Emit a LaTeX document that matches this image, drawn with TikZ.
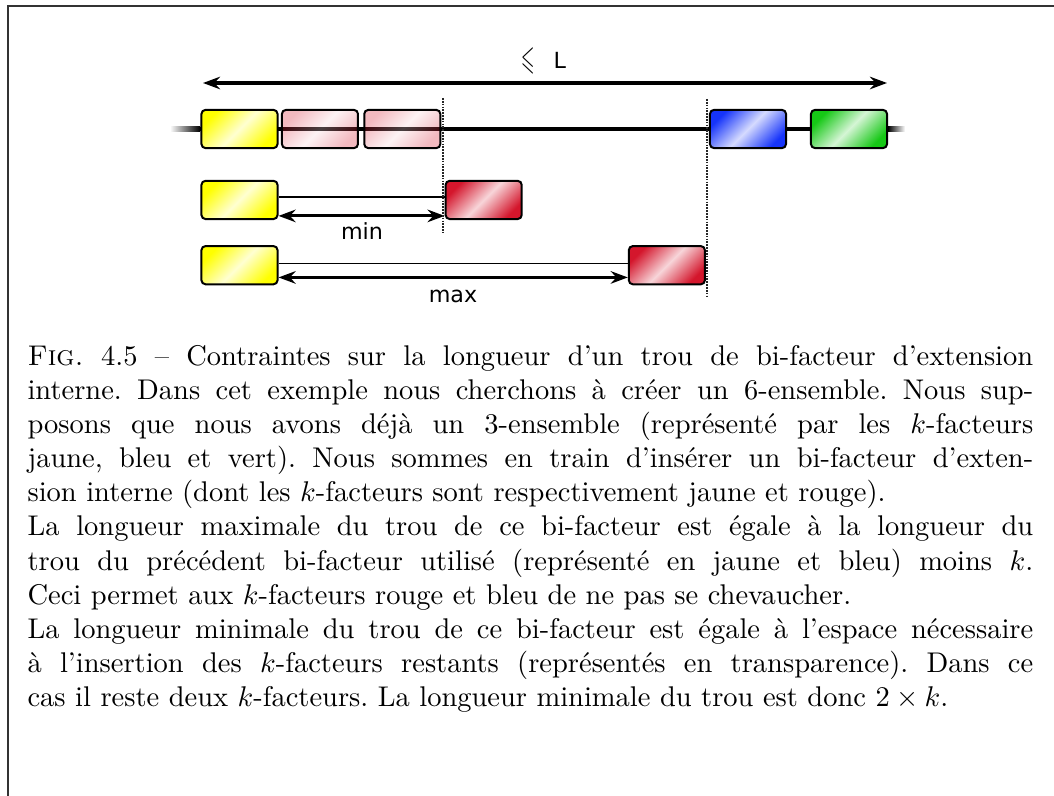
\documentclass[tikz,border=0pt]{standalone}
\usepackage{fontspec}
\usepackage{amssymb}
\usepackage{graphicx}
\usetikzlibrary{arrows.meta,positioning}
\newfontfamily\labelfont{DejaVu Sans}
\definecolor{kyellow}{RGB}{255,255,0}
\definecolor{kred}{RGB}{212,22,44}
\definecolor{kblue}{RGB}{22,52,250}
\definecolor{kgreen}{RGB}{22,200,22}
\begin{document}
\begin{tikzpicture}[x=0.351pt,y=-0.351pt]
\tikzstyle{kfact}=[rectangle, rounded corners=1.4pt, draw=black, line width=0.7pt, minimum width=26.7pt, minimum height=13.4pt, inner sep=0pt]
\tikzset{shine/.style={top color=#1, bottom color=#1, middle color=#1!18, shading angle=45}}
\tikzstyle{ghost}=[kfact, shine=kred, fill opacity=0.3]
\tikzstyle{rail}=[line width=1.5pt]
\tikzstyle{dim}=[{Stealth[length=6pt,width=4.4pt,inset=2pt]}-{Stealth[length=6pt,width=4.4pt,inset=2pt]}, line width=1.1pt]
\tikzstyle{gap}=[line width=0.65pt]
\tikzstyle{cut}=[line width=0.45pt, dash pattern=on 0.6pt off 0.4pt, black!85]
\tikzstyle{lbl}=[font=\labelfont\fontsize{7.8}{9}\selectfont, inner sep=0pt]
\useasboundingbox (0,0) rectangle (1054,796);
\draw[line width=0.7pt, black!80] (8,796) -- (8,6) -- (1054,6);
\coordinate (rail l) at (200,129);
\coordinate (rail r) at (888,129);
\shade[left color=white, right color=black] (170,126.8) rectangle (200,131.2);
\shade[left color=black, right color=white] (888,126.8) rectangle (905,131.2);
\draw[rail] (rail l) -- (rail r);
\node[kfact, shine=kyellow] (y1) at (239.5,129) {};
\node[ghost] (p1) [right=0.84pt of y1] {};
\node[ghost] (p2) [right=1.5pt of p1] {};
\node[kfact, shine=kblue] (b1) at (748,129) {};
\node[kfact, shine=kgreen] (g1) at (849,129) {};
\node[kfact, shine=kyellow] (y2) [below=10.8pt of y1] {};
\node[kfact, shine=kred] (r2) [right=58.3pt of y2] {};
\node[kfact, shine=kyellow] (y3) [below=8.8pt of y2] {};
\node[kfact, shine=kred] (r3) [right=122.6pt of y3] {};
\coordinate (lim l) at (203,83);
\coordinate (lim r) at (887,83);
\draw[dim] (lim l) -- (lim r);
\node[lbl] (lim) at (544,61) {{\fontsize{10}{12}\selectfont\raisebox{-0.2pt}{\scalebox{0.6}[1.2]{$\leqslant$}}}\hspace{6.5pt}L};
\draw[gap] ([yshift=1pt]y2.east) -- ([yshift=1pt]r2.west);
\draw[dim] ([yshift=-5.6pt]y2.east) -- ([yshift=-5.6pt]r2.west);
\node[lbl] (min) at (362,231) {min};
\draw[gap] ([yshift=0.6pt]y3.east) -- ([yshift=0.6pt]r3.west);
\draw[dim] ([yshift=-4.3pt]y3.east) -- ([yshift=-4.3pt]r3.west);
\node[lbl] (max) at (453,296) {max};
\coordinate (cut a1) at (443,98);
\coordinate (cut a2) at (443,232);
\coordinate (cut b1) at (707,99);
\coordinate (cut b2) at (707,298);
\draw[cut] (cut a1) -- (cut a2);
\draw[cut] (cut b1) -- (cut b2);
\node[anchor=base west, inner sep=0pt, text width=353pt, align=justify] (cap) at (27,365) {\hyphenpenalty=10000 \exhyphenpenalty=10000 \tolerance=9999 \frenchspacing
\textsc{Fig.} 4.5 -- Contraintes sur la longueur d'un trou de bi-facteur d'extension\linebreak
interne. Dans cet exemple nous cherchons à créer un 6-ensemble. Nous sup-\linebreak
posons que nous avons déjà un 3-ensemble (représenté par les $k$-facteurs\linebreak
jaune, bleu et vert). Nous sommes en train d'insérer un bi-facteur d'exten-\linebreak
sion interne (dont les $k$-facteurs sont respectivement jaune et rouge).\par
La longueur maximale du trou de ce bi-facteur est égale à la longueur du\linebreak
trou du précédent bi-facteur utilisé (représenté en jaune et bleu) moins $k$.\linebreak
Ceci permet aux $k$-facteurs rouge et bleu de ne pas se chevaucher.\par
La longueur minimale du trou de ce bi-facteur est égale à l'espace nécessaire\linebreak
à l'insertion des $k$-facteurs restants (représentés en transparence). Dans ce\linebreak
cas il reste deux $k$-facteurs. La longueur minimale du trou est donc $2\times k$.};
\end{tikzpicture}
\end{document}
